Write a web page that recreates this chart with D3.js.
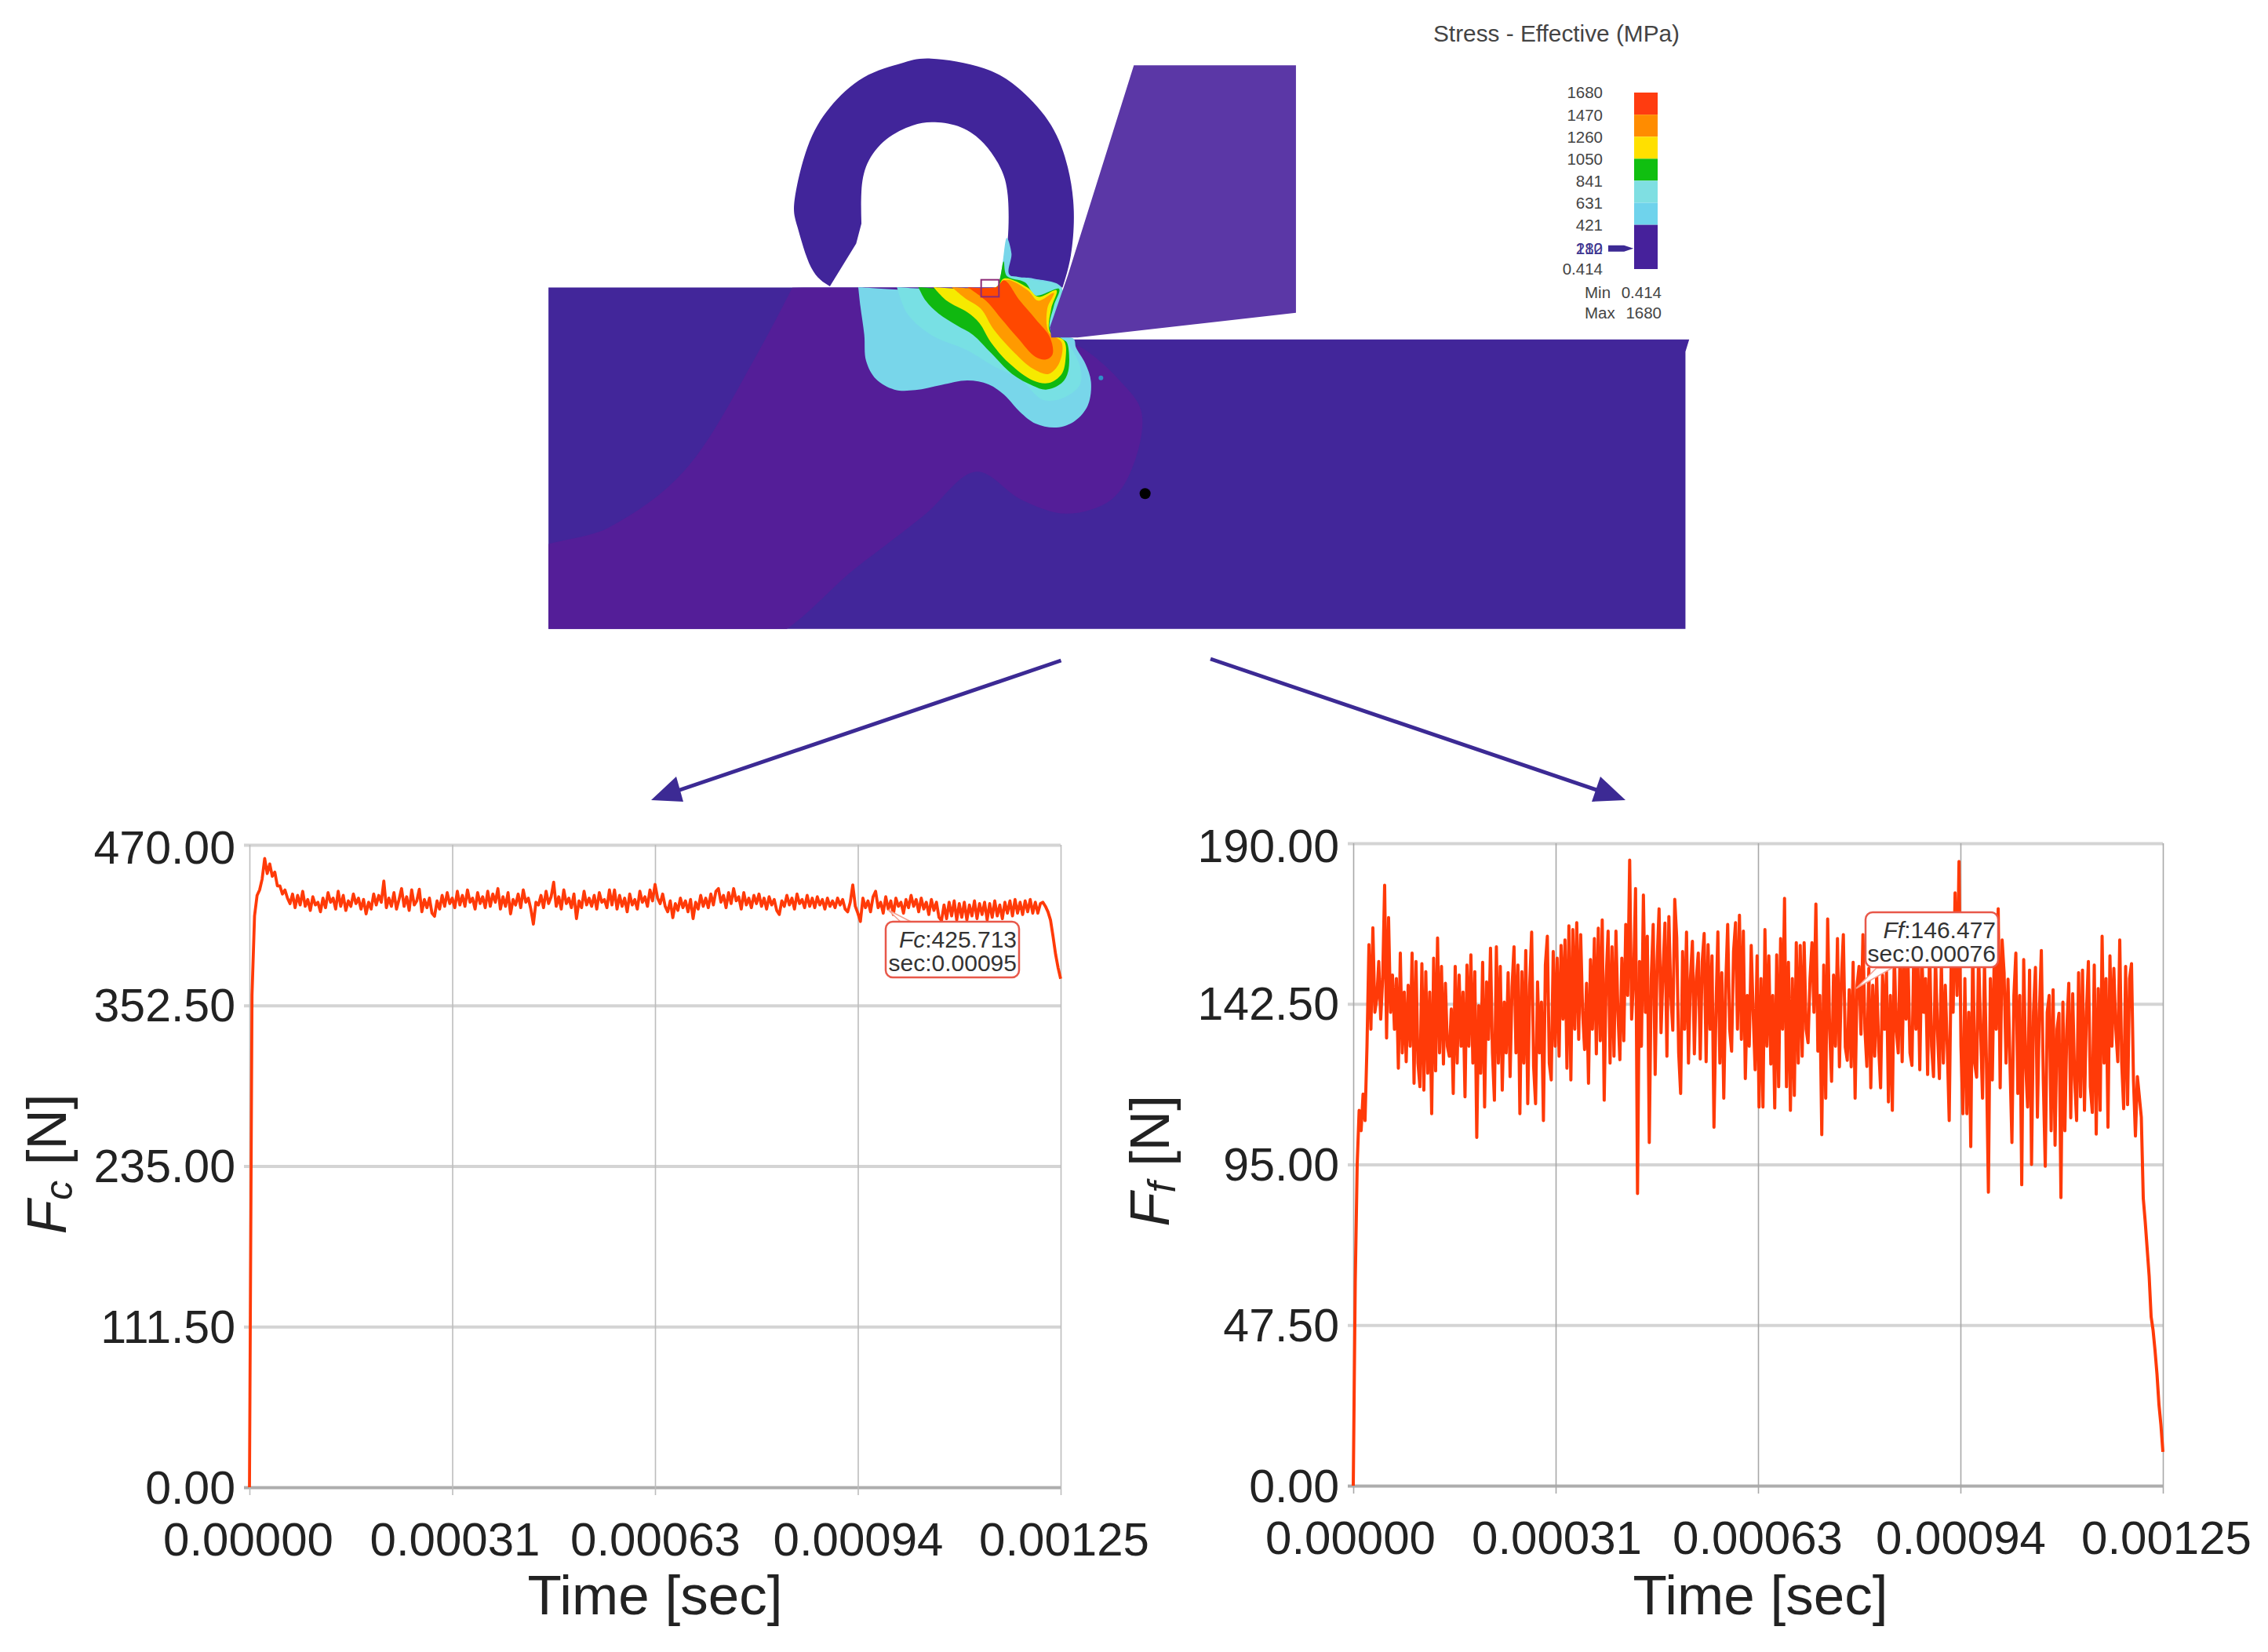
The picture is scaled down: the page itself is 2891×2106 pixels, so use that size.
<!DOCTYPE html>
<html lang="en-us">
<head>
  <title>Cutting force simulation</title>
  <meta charset="utf-8" />
  <script src="https://cdn.jsdelivr.net/npm/d3@7"></script>
  <style>
    body { margin: 0; background: #fff; }
    text { font-family: "Liberation Sans", Arial, sans-serif; }
  </style>
</head>
<body>
<div id="chart"></div>
<script>
// ---- chart values ----
var timeTicks = [0, 0.0003125, 0.000625, 0.0009375, 0.00125];
var timeLabels = ["0.00000", "0.00031", "0.00063", "0.00094", "0.00125"];
var timeEnd = 0.00125;

var fcTicks = [0, 117.5, 235, 352.5, 470];
var fcLabels = ["0.00", "111.50", "235.00", "352.50", "470.00"];
var ffTicks = [0, 47.5, 95, 142.5, 190];
var ffLabels = ["0.00", "47.50", "95.00", "142.50", "190.00"];

// cutting force, evenly spaced samples over the time axis
var fcValues = [
  0,360,418,433,437,445,460,449,456,447,
  450,440,440,434,437,431,427,434,424,433,
  426,436,425,430,422,432,426,428,421,431,
  424,435,428,431,423,436,425,433,422,429,
  425,434,427,431,423,430,419.5,428,423,434,
  426,433,428,443.5,424,431,425,435,423,430,
  438,425,432,422,437,426,429,437.5,421,430,
  424,431,420,417.7,429,423,433,425,435,427,
  431,424,436,426,433,425,437,428,431,423,
  435,427,432,424,436,425,434,428,438,423,
  432,425,435,419.5,430,426,434,424,437,428,
  431,423,412,428,426,433,424,436,427,432,
  442.6,425,432,423,437,427,431,424,434,416,
  429,424,436,426,431,425,433,423,435,428,
  430,424,437,426,437,423,433,425,431,421,
  434,426,430,423,436,428,432,425,437,429,
  441,431,427,434,425,421,429,416.7,427,422,
  431,424,429,421,430,416,428,423,433,425,
  431,424,434,426,436,438,428,433,424,435,
  427,438,429,432,423,435,426,431,424,433,
  427,434,425,431,423,432,426,430,422,419,
  429,425,433,426,431,423,434,427,430,424,
  433,425,431,424,432,426,430,423,431,425,
  429,424,431,426,430,423,421,428,440.7,425,
  420,413.9,431,424,429,421,432,436,424,428,
  420,432,423,429,419,431,425,428,420,430,
  424,433,425,430,421,431,423,428,419,430,
  422,428,417,414.5,426,416,428,418,429,415,
  427,417,428,415,426,418,429,416,427,419,
  428,415,427,417,429,418,426,416,428,420,
  429,418,430,420,428,419,429,421,430,420,
  428,420,427,428,425,421,415,403,390,380,372
];

// feed force, evenly spaced samples over the time axis
var ffValues = [
  0,60,95,111,105,115.8,108,130,160,135,165,140,144,155,138,150,177.6,132.4,168,140,
  151,135,150,123.5,157.5,128,146,125.4,148,130,157.5,119,155,125,118,154.4,117,152,122,146,
  110,156,122.7,162,128,153.6,124.7,148.6,130,127,141,116,153.6,125,151,130,146,115,154,130,
  157,125,152,103,142,122,154.8,112,149,132,159,128,114,159.4,125,153.6,117,143,128,151.7,
  121,147.5,159.4,128,154,110,152,125,158.3,113,148,163.7,124,113,149,128,143,108,154,162.5,
  125,120,158,130,156,127,159.8,138,161.4,123.5,165.6,120,164.5,135,166.5,132,163,140,129,148.6,
  119,155.6,135,161.8,127.7,164.9,131.6,167.3,114,150,164,125,159.4,127,164,140,126,156,131.6,166,
  145,185,138,150,176.6,86.4,155,130,174.7,140,162.5,101.5,150,166,121.6,155,170.6,134,152,166.4,
  127,168.3,145,134.7,173.4,162,128,116,158,135,163.7,125,150,161,127.7,150,157.5,126.2,155,163.3,
  125.4,160,135,156.7,106,140,163.8,125,151.7,114.6,148,166,135,128.5,158,166.5,135,168.7,132,164,
  120.4,145,130,159.8,140,123,156.7,112,150,112,164.5,130,156.7,124.7,145,111.7,157,118,161.8,135,
  173.7,118,154.8,111,150,115.4,160.6,125,159.8,127,160.6,135,131,150,160.6,140,172,128.5,145,103.8,
  154,114.6,167.6,135,119.6,151,130,161.8,123.9,150,163,129.7,125.8,146.7,123.9,154.8,114.6,148,153.6,133.5,
  163,135,124,153,117.7,148,127,151,130,117.7,151,135,152,113.5,145,111,158,135,128,160,
  125.4,158,138,155,128,124.3,161,135,155,123,158,140,150,121.6,160,130,121,157,135,120.4,
  155,125,148,130,108,155,140,175.3,145,184.6,130,110,150,110,140,100.3,160,125,120.8,158,
  135,114.6,155,125,86.8,150,120,158,135,170.6,117.7,161.4,151.7,125,149.8,125,101.5,145,157.5,116,
  145,89,155.6,125,112,152.5,95,140,153.3,109,140,158.3,120,94.5,140,145,105,146.7,100.7,135,
  139.7,85.2,143,105,135,148.6,108.8,145.5,120,108,151.7,115,152.5,111,140,155,118,110.4,154,104,
  147,111,162.5,125,150,106,156.7,130,153,135,125.4,161.4,125,111.5,153.6,112.7,150,154.4,120,103.4,
  121,115,109,85,78,70,62,50,46,40,33,24,18,10
];

// stress legend, top to bottom
var stressStops = [1680, 1470, 1260, 1050, 841, 631, 421, 0.414];
var stressColors = ["#ff3c10", "#ff8c00", "#ffe000", "#10bf10", "#7fdfe2", "#6fd3ec", "#46219b"];
var stressLabels = ["1680", "1470", "1260", "1050", "841", "631", "421", "0.414"];
var stressMarked = [210, 182];

// ---- outlines of the simulation picture ----
// part shapes are traced in crop units, xA/yA and xB/yB bring them to the page
var workpiece = [[20,640],[700,640],[700,770],[1540,770],[1535,800],[1535,1493],[20,1493]];
var softZone = [[345,640],[300,800],[200,1100],[100,1240],[-20,1320],[-40,1540],[290,1540],[430,1340],[520,1210],[590,1100],
  [650,1170],[710,1205],[770,1170],[800,1080],[810,950],[780,870],[730,790],[700,770],[650,620]];
var chipOuter = [[395,637],[370,590],[352,490],[348,420],[365,290],[395,190],[440,115],[490,80],[530,68],[600,92],[650,148],
  [690,235],[712,340],[720,450],[716,560],[705,640]];
var chipInner = [[620,640],[625,600],[632,520],[632,410],[622,340],[600,280],[570,240],[535,227],[505,235],[470,270],
  [445,330],[437,400],[437,480]];
var chipTip = [[430,530],[395,637]];
var tool = [[800,85],[1016,85],[1016,703],[725,765],[690,765],[688,740],[712,610]];

var contourCyan = [[282,258],[290,330],[305,440],[312,540],[350,610],[420,650],[500,652],[600,632],[700,615],[780,630],[840,670],
  [900,735],[960,780],[1040,795],[1110,770],[1160,710],[1172,620],[1150,550],[1115,490],[1105,455],[1020,440],[1060,260],
  [950,225],[860,210],[868,130],[850,70],[835,160],[825,220],[810,258],[282,258]];
var contourAqua = [[430,258],[470,360],[560,440],[700,500],[800,560],[900,610],[990,690],[1070,680],[1130,630],[1130,560],[1080,470],
  [1030,430],[1060,262],[950,232],[850,218],[810,258],[430,258]];
var contourGreen = [[512,258],[540,310],[590,360],[660,405],[720,440],[790,510],[870,590],[950,635],[1000,650],[1060,625],[1085,580],
  [1080,470],[1060,455],[1015,420],[1030,330],[1050,265],[960,290],[920,240],[850,215],[838,160],[825,220],[810,258],[512,258]];
var contourYellow = [[570,258],[620,310],[700,355],[745,395],[790,470],[860,550],[950,615],[1010,625],[1060,590],[1075,530],[1070,465],
  [1015,430],[1020,340],[1040,270],[970,295],[930,260],[840,225],[810,258],[570,258]];
var contourOrange = [[640,258],[690,300],[750,340],[800,420],[880,510],[950,570],[1010,590],[1050,550],[1060,470],[1010,430],[1005,340],
  [1030,280],[970,310],[930,270],[850,230],[810,258],[640,258]];
var contourRed = [[700,258],[770,310],[830,380],[890,450],[960,525],[1000,535],[1025,515],[1015,450],[960,380],[900,310],[840,232],[810,258],[700,258]];

var W = 2891, H = 2106;
var svg = d3.select("#chart").append("svg").attr("width", W).attr("height", H);

var xA = d3.scaleLinear().domain([0, 1568]).range([680, 2180]);
var yA = d3.scaleLinear().domain([0, 1568]).range([40, 840]);
var xB = d3.scaleLinear().domain([0, 1500]).range([1000, 1500]);
var yB = d3.scaleLinear().domain([0, 900]).range([280, 580]);

var straightA = d3.line().x(function(d) { return xA(d[0]); }).y(function(d) { return yA(d[1]); });
var naturalA = d3.line().x(function(d) { return xA(d[0]); }).y(function(d) { return yA(d[1]); }).curve(d3.curveNatural);
var smoothA = d3.line().x(function(d) { return xA(d[0]); }).y(function(d) { return yA(d[1]); }).curve(d3.curveCatmullRom.alpha(0.5));
var smoothB = d3.line().x(function(d) { return xB(d[0]); }).y(function(d) { return yB(d[1]); }).curve(d3.curveCatmullRom.alpha(0.5));

svg.append("clipPath").attr("id", "workpiece-clip")
  .append("path").attr("d", straightA(workpiece) + "Z");

svg.append("path").attr("d", straightA(workpiece) + "Z").attr("fill", "#42269a");
svg.append("path").attr("d", smoothA(softZone) + "Z").attr("fill", "#541e98").attr("clip-path", "url(#workpiece-clip)");

var chipPath = naturalA(chipOuter)
  + "L" + naturalA(chipInner).slice(1)
  + "L" + straightA(chipTip).slice(1) + "Z";
svg.append("path").attr("d", chipPath).attr("fill", "#41259a");

var contours = [
  [contourCyan, "#78d6ea"], [contourAqua, "#78e0e4"], [contourGreen, "#10b810"],
  [contourYellow, "#f6ea00"], [contourOrange, "#ff9a00"], [contourRed, "#ff4800"]
];
contours.forEach(function(c) {
  svg.append("path").attr("d", smoothB(c[0]) + "Z").attr("fill", c[1]);
});

svg.append("path").attr("d", straightA(tool) + "Z").attr("fill", "#5b37a6");

svg.append("rect")
  .attr("x", xB(752)).attr("y", yB(230))
  .attr("width", xB(820) - xB(752)).attr("height", yB(295) - yB(230))
  .attr("fill", "none").attr("stroke", "#8c2b78").attr("stroke-width", 2);
svg.append("circle").attr("cx", xB(1210)).attr("cy", yB(605)).attr("r", 3).attr("fill", "#2f8fc8");
svg.append("circle").attr("cx", xA(815)).attr("cy", yA(1155)).attr("r", 7).attr("fill", "#000");

// ---- stress legend ----
var stressY = d3.scaleLinear().domain([0.414, 1680]).range([343, 118]);
var markY = stressY(196);
svg.append("text").attr("x", 1827).attr("y", 53).attr("font-size", 29.8).attr("fill", "#444")
  .text("Stress - Effective (MPa)");

svg.selectAll(".stress-band").data(stressColors).enter().append("rect")
  .attr("class", "stress-band")
  .attr("x", 2083).attr("width", 30)
  .attr("y", function(d, i) { return stressY(stressStops[i]); })
  .attr("height", function(d, i) { return stressY(stressStops[i + 1]) - stressY(stressStops[i]); })
  .attr("fill", function(d) { return d; });

svg.selectAll(".stress-label").data(stressLabels).enter().append("text")
  .attr("class", "stress-label")
  .attr("x", 2043).attr("text-anchor", "end").attr("font-size", 20.5).attr("fill", "#444")
  .attr("y", function(d, i) { return stressY(stressStops[i]); })
  .attr("dy", "0.36em")
  .text(function(d) { return d; });

// two labels sit on top of each other in the original
svg.selectAll(".stress-mark").data(stressMarked).enter().append("text")
  .attr("class", "stress-mark")
  .attr("x", 2043).attr("text-anchor", "end").attr("font-size", 20.5).attr("fill", "#3d3590")
  .attr("y", markY)
  .attr("dy", "0.36em")
  .text(function(d) { return d; });

svg.append("path")
  .attr("d", d3.line()([[2051, markY - 3], [2070, markY - 3], [2079, markY], [2070, markY + 3], [2051, markY + 3]]) + "Z")
  .attr("fill", "#3d2a94").attr("stroke", "#3d2a94").attr("stroke-width", 2);

[["Min", "0.414", 373], ["Max", "1680", 399]].forEach(function(r) {
  svg.append("text").attr("x", 2020).attr("y", r[2]).attr("dy", "0.36em").attr("font-size", 20.5).attr("fill", "#444").text(r[0]);
  svg.append("text").attr("x", 2118).attr("y", r[2]).attr("dy", "0.36em").attr("text-anchor", "end").attr("font-size", 20.5).attr("fill", "#444").text(r[1]);
});

// ---- arrows between the picture and the charts ----
var arrowColor = "#3c2a94";
[
  { line: [[1352.5, 842], [846, 1014]], head: [[830, 1020], [862, 990], [871, 1022]] },
  { line: [[1543, 840], [2056, 1014]], head: [[2072, 1020], [2040, 990], [2029, 1022]] }
].forEach(function(a) {
  svg.append("path").attr("d", d3.line()(a.line)).attr("stroke", arrowColor).attr("stroke-width", 5).attr("fill", "none");
  svg.append("path").attr("d", d3.line()(a.head) + "Z").attr("fill", arrowColor);
});

// ---- force charts ----
function drawPanel(p) {
  var x = d3.scaleLinear().domain([0, timeEnd]).range([p.left, p.right]);
  var y = d3.scaleLinear().domain([0, p.max]).range([p.bottom, p.top]);
  var g = svg.append("g");

  var yAxis = d3.axisLeft(y).tickValues(p.ticks)
    .tickSize(p.right - p.left + 7).tickPadding(11)
    .tickFormat(function(d, i) { return p.labels[i]; });
  var yG = g.append("g").attr("transform", "translate(" + p.right + ",0)").call(yAxis);
  yG.select(".domain").remove();
  yG.selectAll("line").attr("stroke", "#d4d4d4").attr("stroke-width", 4);
  yG.selectAll("text").attr("font-size", 59).attr("fill", "#222")
    .attr("font-family", "Liberation Sans")
    .attr("dy", function(d) { return d === p.max ? "0.4em" : "0.34em"; });
  yG.selectAll("line").filter(function(d) { return d === 0; }).attr("stroke", "#adadad");

  var xAxis = d3.axisBottom(x).tickValues(timeTicks)
    .tickSize(p.bottom - p.top + 10).tickPadding(34)
    .tickFormat(function(d, i) { return timeLabels[i]; });
  var xG = g.append("g").attr("transform", "translate(0," + p.top + ")").call(xAxis);
  xG.select(".domain").remove();
  xG.selectAll("line").attr("stroke", p.gridColor).attr("stroke-width", 1.6);
  xG.selectAll("text").attr("font-size", 60).attr("fill", "#222")
    .attr("font-family", "Liberation Sans")
    .attr("dx", function(d, i) { return p.labelNudge[i]; });

  var dt = timeEnd / (p.values.length - 1);
  var line = d3.line().x(function(d, i) { return x(i * dt); }).y(function(d) { return y(d); });
  g.append("path").datum(p.values).attr("d", line)
    .attr("fill", "none").attr("stroke", "#ff3a08").attr("stroke-width", p.lineWidth)
    .attr("stroke-linejoin", "round");

  // tooltip of the picked sample
  var b = p.box;
  g.append("path").attr("d", d3.line()(b.wedge) + "Z").attr("fill", "#fff").attr("stroke", "#f4a090").attr("stroke-width", 1.5);
  g.append("rect").attr("x", b.x).attr("y", b.y).attr("width", b.w).attr("height", b.h).attr("rx", 9)
    .attr("fill", "#fff").attr("stroke", "#e8584a").attr("stroke-width", 2.5);
  var t1 = g.append("text").attr("x", b.x + b.w - 3).attr("y", b.y + 22).attr("dy", "0.36em")
    .attr("text-anchor", "end").attr("font-size", 30).attr("fill", "#333");
  t1.append("tspan").attr("font-style", "italic").text(p.symbol);
  t1.append("tspan").text(":" + b.value);
  g.append("text").attr("x", b.x + b.w - 3).attr("y", b.y + 52).attr("dy", "0.36em")
    .attr("text-anchor", "end").attr("font-size", 30).attr("fill", "#333").text("sec:" + b.time);

  // axis titles
  g.append("text").attr("x", (p.left + p.right) / 2 + p.titleNudge).attr("y", 2058).attr("text-anchor", "middle")
    .attr("font-size", 71).attr("fill", "#222").text("Time [sec]");
  var yt = g.append("text").attr("transform", "translate(" + p.titleX + "," + p.titleY + ") rotate(-90)")
    .attr("text-anchor", "middle").attr("font-size", 71).attr("fill", "#222");
  yt.append("tspan").attr("font-style", "italic").text("F");
  yt.append("tspan").attr("font-style", "italic").attr("font-size", 50).attr("dy", 8).text(p.symbol.charAt(1));
  yt.append("tspan").attr("dy", -8).text(" [N]");
}

drawPanel({
  values: fcValues, max: 470, ticks: fcTicks, labels: fcLabels,
  left: 318, right: 1352, top: 1077, bottom: 1896, gridColor: "#bdbdbd", lineWidth: 3.8,
  symbol: "Fc", titleX: 84, titleY: 1484, titleNudge: 0, labelNudge: [-2, 3, 0, 0, 4],
  box: { x: 1129, y: 1175, w: 170, h: 71, value: "425.713", time: "0.00095",
         wedge: [[1132, 1160], [1150, 1177], [1165, 1177]] }
});
drawPanel({
  values: ffValues, max: 190, ticks: ffTicks, labels: ffLabels,
  left: 1725, right: 2757, top: 1075, bottom: 1894, gridColor: "#a8a8a8", lineWidth: 4,
  symbol: "Ff", titleX: 1490, titleY: 1480, titleNudge: 3, labelNudge: [-4, 1, -1, 0, 4],
  box: { x: 2378, y: 1163, w: 169, h: 70, value: "146.477", time: "0.00076",
         wedge: [[2366, 1260], [2392, 1234], [2412, 1234]] }
});
</script>
</body>
</html>
